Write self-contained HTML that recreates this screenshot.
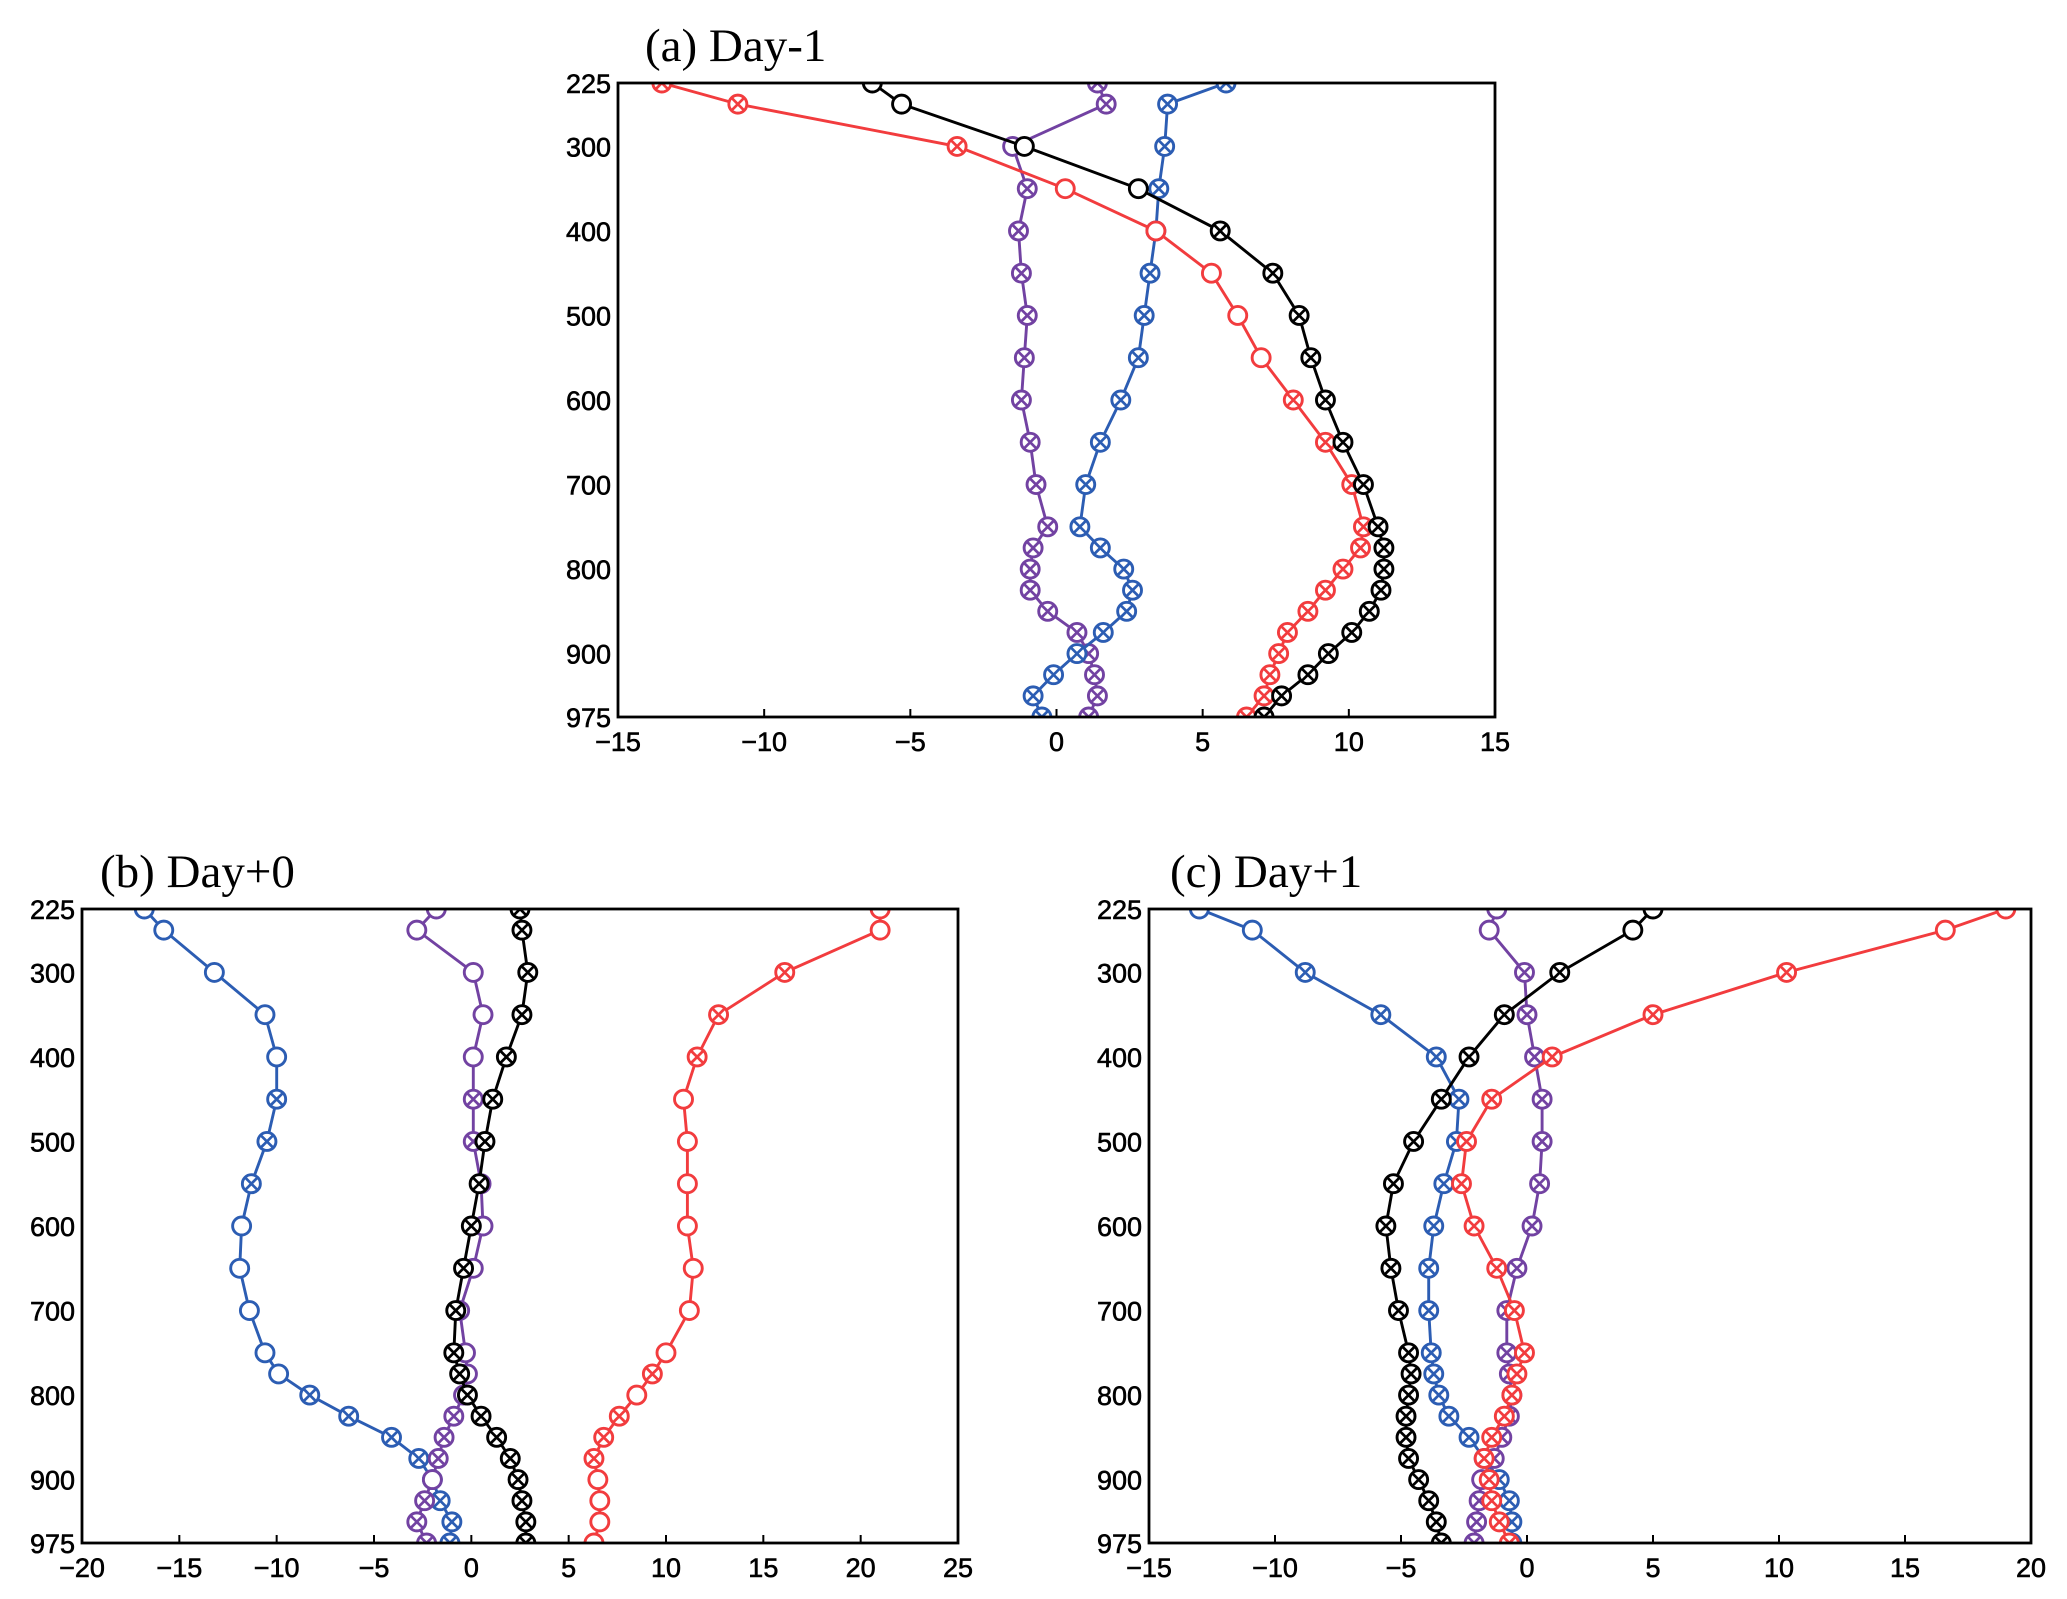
<!DOCTYPE html>
<html><head><meta charset="utf-8"><style>
body{margin:0;background:#fff;}
svg{display:block;font-family:"Liberation Sans",sans-serif;}
</style></head><body>
<svg id="fig" width="2067" height="1599" viewBox="0 0 2067 1599" xmlns="http://www.w3.org/2000/svg"></svg>
<script>
const levels=[225,250,300,350,400,450,500,550,600,650,700,750,775,800,825,850,875,900,925,950,975];
const yTicks=[225,300,400,500,600,700,800,900,975];
const aXTicks=[-15,-10,-5,0,5,10,15];
const bXTicks=[-20,-15,-10,-5,0,5,10,15,20,25];
const cXTicks=[-15,-10,-5,0,5,10,15,20];
// Panel (a)
const aBlack=[-6.3,-5.3,-1.1,2.8,5.6,7.4,8.3,8.7,9.2,9.8,10.5,11.0,11.2,11.2,11.1,10.7,10.1,9.3,8.6,7.7,7.1];
const aBlackM="oooo" +"xxxxxxxxxxxxxxxxx";
const aRed=[-13.5,-10.9,-3.4,0.3,3.4,5.3,6.2,7.0,8.1,9.2,10.1,10.5,10.4,9.8,9.2,8.6,7.9,7.6,7.3,7.1,6.5];
const aRedM="xxxooooo"+"xxxxxxxxxxxxx";
const aPurple=[1.4,1.7,-1.5,-1.0,-1.3,-1.2,-1.0,-1.1,-1.2,-0.9,-0.7,-0.3,-0.8,-0.9,-0.9,-0.3,0.7,1.1,1.3,1.4,1.1];
const aPurpleM="xxo"+"xxxxxxxxxxxxxxxxxx";
const aBlue=[5.8,3.8,3.7,3.5,3.4,3.2,3.0,2.8,2.2,1.5,1.0,0.8,1.5,2.3,2.6,2.4,1.6,0.7,-0.1,-0.8,-0.5];
const aBlueM="xxxxxxxxxxxxxxxxxxxxx";
// Panel (b)
const bBlue=[-16.8,-15.8,-13.2,-10.6,-10.0,-10.0,-10.5,-11.3,-11.8,-11.9,-11.4,-10.6,-9.9,-8.3,-6.3,-4.1,-2.7,-2.0,-1.6,-1.0,-1.1];
const bBlueM="oooooxxxooooo"+"xxxxxxxx";
const bPurple=[-1.8,-2.8,0.1,0.6,0.1,0.1,0.1,0.5,0.6,0.1,-0.6,-0.3,-0.2,-0.4,-0.9,-1.4,-1.7,-2.0,-2.4,-2.8,-2.3];
const bPurpleM="oooooxxxoooooo"+"xxxoxxx";
const bBlack=[2.5,2.6,2.9,2.6,1.8,1.1,0.7,0.4,0.0,-0.4,-0.8,-0.9,-0.6,-0.2,0.5,1.3,2.0,2.4,2.6,2.8,2.8];
const bBlackM="xxxxxxxxxxxxxxxxxxxxx";
const bRed=[21.0,21.0,16.1,12.7,11.6,10.9,11.1,11.1,11.1,11.4,11.2,10.0,9.3,8.5,7.6,6.8,6.3,6.5,6.6,6.6,6.3];
const bRedM="ooxxxooooooo"+"xoxxxoooo";
// Panel (c)
const cBlue=[-13.0,-10.9,-8.8,-5.8,-3.6,-2.7,-2.8,-3.3,-3.7,-3.9,-3.9,-3.8,-3.7,-3.5,-3.1,-2.3,-1.7,-1.1,-0.7,-0.6,-0.6];
const cBlueM="oo"+"xxxxxxxxxxxxxxxxxxx";
const cBlack=[5.0,4.2,1.3,-0.9,-2.3,-3.4,-4.5,-5.3,-5.6,-5.4,-5.1,-4.7,-4.6,-4.7,-4.8,-4.8,-4.7,-4.3,-3.9,-3.6,-3.4];
const cBlackM="oo"+"xxxxxxxxxxxxxxxxxxx";
const cPurple=[-1.2,-1.5,-0.1,0.0,0.3,0.6,0.6,0.5,0.2,-0.4,-0.8,-0.8,-0.7,-0.6,-0.7,-1.0,-1.3,-1.8,-1.9,-2.0,-2.1];
const cPurpleM="oo"+"xxxxxxxxxxxxxxxoxxxx";
const cRed=[19.0,16.6,10.3,5.0,1.0,-1.4,-2.4,-2.6,-2.1,-1.2,-0.5,-0.1,-0.4,-0.6,-0.9,-1.4,-1.7,-1.5,-1.4,-1.1,-0.7];
const cRedM="oo"+"xxxxxxxxxxxxxxxxxxx";

const C={black:"#000000",red:"#f23c3e",blue:"#2c5db3",purple:"#7242a2"};
const svg=document.getElementById('fig');
const NS="http://www.w3.org/2000/svg";
function mk(tag,attrs,parent){const e=document.createElementNS(NS,tag);for(const k in attrs)e.setAttribute(k,attrs[k]);(parent||svg).appendChild(e);return e;}
function fmt(v){return v<0?"\u2212"+(-v):String(v);}

function panel(id,title,box,xmin,xmax,xticks,series){
  const g=mk('g',{});
  
  
  const X=v=>box.l+(v-xmin)/(xmax-xmin)*(box.r-box.l);
  const Y=p=>box.t+(p-225)/(975-225)*(box.b-box.t);
  const t=mk('text',{x:box.tx,y:box.t-22,'font-size':47,'font-family':'"Liberation Serif",serif',fill:'#000'},g);
  t.textContent=title;
  
  
  const clip=mk('clipPath',{id:'clip'+id},g);
  mk('rect',{x:box.l-12,y:box.t,width:box.r-box.l+24,height:box.b-box.t},clip);
  const sg=mk('g',{'clip-path':'url(#clip'+id+')'},g);
  series.forEach(s=>{
    const sgr=mk('g',{},sg);
    
    
    const pts=s.v.map((v,i)=>X(v).toFixed(1)+','+Y(levels[i]).toFixed(1)).join(' ');
    mk('polyline',{points:pts,fill:'none',stroke:C[s.name],'stroke-width':2.9},sgr);
    s.v.forEach((v,i)=>{
      const cx=X(v),cy=Y(levels[i]),r=9;
      const m=mk('g',{},sgr);
      
      
      mk('circle',{cx:cx,cy:cy,r:r,fill:'#fff',stroke:C[s.name],'stroke-width':2.9},m);
      if(s.m[i]==='x'){const d=r*0.7;
        mk('path',{d:`M${cx-d},${cy-d}L${cx+d},${cy+d}M${cx+d},${cy-d}L${cx-d},${cy+d}`,stroke:C[s.name],'stroke-width':2.7},m);}
    });
  });
  const fr=mk('rect',{x:box.l,y:box.t,width:box.r-box.l,height:box.b-box.t,fill:'none',stroke:'#000','stroke-width':2.8},g);
  
  
  yTicks.forEach(p=>{
    const tt=mk('text',{x:box.l-7,y:Y(p)+10,'font-size':27,'text-anchor':'end',fill:'#000',stroke:'#000','stroke-width':0.6},g);
    tt.textContent=p;
    
    
  });
  xticks.forEach(v=>{
    mk('line',{x1:X(v),x2:X(v),y1:box.b,y2:box.b-8,stroke:'#000','stroke-width':2},g);
    const tt=mk('text',{x:X(v),y:box.b+34,'font-size':27,'text-anchor':'middle',fill:'#000',stroke:'#000','stroke-width':0.6},g);
    tt.textContent=fmt(v);
    
    
  });
}
panel('a','(a) Day-1',{l:618,r:1495,t:83,b:717,tx:645},-15,15,aXTicks,[
 {name:'purple',v:aPurple,m:aPurpleM},{name:'blue',v:aBlue,m:aBlueM},{name:'red',v:aRed,m:aRedM},{name:'black',v:aBlack,m:aBlackM}]);
panel('b','(b) Day+0',{l:82,r:958,t:909,b:1543,tx:100},-20,25,bXTicks,[
 {name:'blue',v:bBlue,m:bBlueM},{name:'purple',v:bPurple,m:bPurpleM},{name:'red',v:bRed,m:bRedM},{name:'black',v:bBlack,m:bBlackM}]);
panel('c','(c) Day+1',{l:1149,r:2031,t:909,b:1543,tx:1170},-15,20,cXTicks,[
 {name:'blue',v:cBlue,m:cBlueM},{name:'purple',v:cPurple,m:cPurpleM},{name:'black',v:cBlack,m:cBlackM},{name:'red',v:cRed,m:cRedM}]);
</script>
</body></html>
